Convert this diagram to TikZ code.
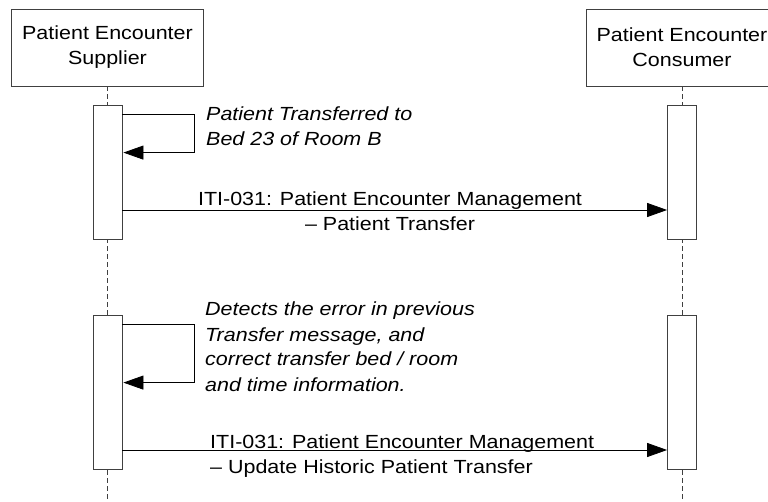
\documentclass[tikz,border=0pt]{standalone}
\usepackage{fontspec}
\setmainfont[FakeStretch=1.13]{Liberation Sans}
\usetikzlibrary{arrows.meta,positioning,calc}
\tikzset{
 actor/.style={draw=black!75,fill=white,align=center,minimum width=192pt,minimum height=77pt,inner sep=0pt,line width=0.8pt},
 life/.style={draw=black!75,dash pattern=on 5pt off 3pt,line width=0.8pt},
 act/.style={draw=black!75,fill=white,minimum width=29pt,inner sep=0pt,line width=0.8pt},
 msg/.style={-{Triangle[length=20pt,width=14pt]},line width=0.8pt,draw=black},
 notetext/.style={align=left,inner sep=0pt,font=\itshape},
 msgtext/.style={inner sep=0pt}
}
\begin{document}
\begin{tikzpicture}[x=1pt,y=-1pt]
\fontsize{19}{25}\selectfont
\clip (0,0) rectangle (768,502);
% lifelines
\node[actor] (sup) at (107.5,47.5) {Patient Encounter\\Supplier};
\node[actor] (con) at (682,47.5) {Patient Encounter\\Consumer};
\coordinate (supend) at (107.5,502);
\coordinate (conend) at (682,502);
\draw[life] (sup.south) -- (supend);
\draw[life] (con.south) -- (conend);
% activations
\node[act,minimum height=134pt] (sa) at (107.5,172) {};
\node[act,minimum height=134pt] (ca) at (682,172) {};
\node[act,minimum height=154pt] (sb) at (107.5,392) {};
\node[act,minimum height=154pt] (cb) at (682,392) {};
% self messages
\coordinate (la) at ($(sa.north east)+(0,10)$);
\coordinate (lb) at ($(sa.north east)+(72,10)$);
\coordinate (lc) at ($(sa.north east)+(72,48)$);
\coordinate (ld) at ($(sa.north east)+(1,48)$);
\draw[msg] (la) -- (lb) -- (lc) -- (ld);
\node[notetext,anchor=base west] (na) at (206,146) {Patient Transferred to\\Bed 23 of Room B};
\coordinate (ma) at ($(sb.north east)+(0,10)$);
\coordinate (mb) at ($(sb.north east)+(72,10)$);
\coordinate (mc) at ($(sb.north east)+(72,68)$);
\coordinate (md) at ($(sb.north east)+(1,68)$);
\draw[msg] (ma) -- (mb) -- (mc) -- (md);
\node[notetext,anchor=base west] (nb) at (205,391) {Detects the error in previous\\Transfer message, and\\correct transfer bed / room\\and time information.};
% messages
\draw[msg] (sa.east |- 0,210) -- (ca.west |- 0,210);
\node[msgtext,align=center,anchor=base] (ta) at (390,231) {ITI-031: Patient Encounter Management\\– Patient Transfer};
\draw[msg] (sb.east |- 0,450) -- (cb.west |- 0,450);
\node[msgtext,align=left,anchor=base west] (tb) at (210,473) {ITI-031: Patient Encounter Management\\– Update Historic Patient Transfer};
\end{tikzpicture}
\end{document}
